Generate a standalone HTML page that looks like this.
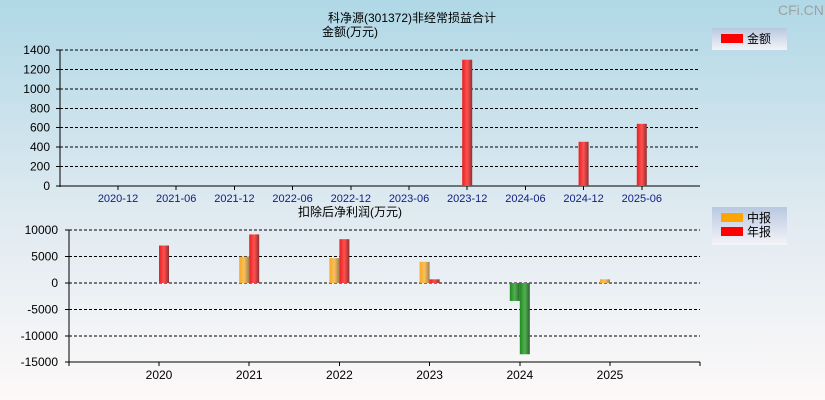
<!DOCTYPE html>
<html><head><meta charset="utf-8"><style>
body{margin:0;width:825px;height:400px;overflow:hidden;font-family:"Liberation Sans","Noto Sans CJK SC",sans-serif}
svg{display:block}
line{shape-rendering:crispEdges}
</style></head><body>
<svg id="c" width="825" height="400" xmlns="http://www.w3.org/2000/svg">
<defs>
<linearGradient id="bg" x1="0" y1="0" x2="0" y2="1"><stop offset="0" stop-color="#b0d8e6"/><stop offset="0.5" stop-color="#dde9f0"/><stop offset="1" stop-color="#fdf9f9"/></linearGradient>
<linearGradient id="gr" x1="0" x2="1"><stop offset="0" stop-color="#e82020"/><stop offset="0.5" stop-color="#ff5050"/><stop offset="1" stop-color="#903030"/></linearGradient>
<linearGradient id="go" x1="0" x2="1"><stop offset="0" stop-color="#f8a820"/><stop offset="0.5" stop-color="#f8c060"/><stop offset="1" stop-color="#a08050"/></linearGradient>
<linearGradient id="gg" x1="0" x2="1"><stop offset="0" stop-color="#208820"/><stop offset="0.5" stop-color="#50b050"/><stop offset="1" stop-color="#306030"/></linearGradient>
<linearGradient id="lg" x1="0" y1="0" x2="0" y2="1"><stop offset="0" stop-color="#b8c8e0"/><stop offset="1" stop-color="#f4f4f8"/></linearGradient>
</defs>
<rect width="825" height="400" fill="url(#bg)"/>
<text x="778" y="15" font-size="14" fill="#a0a0a0">CFi.CN</text>
<text x="412" y="22" font-size="12" text-anchor="middle">科净源(301372)非经常损益合计</text>
<text x="350" y="36" font-size="12" text-anchor="middle">金额(万元)</text>
<text x="350" y="216" font-size="12" text-anchor="middle">扣除后净利润(万元)</text>
<g><rect x="712" y="28" width="75" height="22" fill="url(#lg)"/><rect x="721" y="34" width="22" height="9" fill="#f00"/><text x="747" y="43" font-size="12">金额</text></g>
<g><rect x="712" y="207" width="75" height="38" fill="url(#lg)"/><rect x="721" y="213" width="22" height="9" fill="#ffa500"/><text x="747" y="222" font-size="12">中报</text><rect x="721" y="227" width="22" height="9" fill="#f00"/><text x="747" y="236" font-size="12">年报</text></g>
<g id="top"></g><g id="bot"></g>
</svg>
<script>
const topCats=["2020-12","2021-06","2021-12","2022-06","2022-12","2023-06","2023-12","2024-06","2024-12","2025-06"];
const topVals=[0,0,0,0,0,0,1300,0,455,640];
const topTicks=[0,200,400,600,800,1000,1200,1400];
const botCats=["2020","2021","2022","2023","2024","2025"];
const midVals=[null,5000,4700,4000,-3400,700];
const annVals=[7100,9200,8300,700,-13500,null];
const botTicks=[10000,5000,0,-5000,-10000,-15000];
const NS="http://www.w3.org/2000/svg";
function mk(p,t,a,txt){const e=document.createElementNS(NS,t);for(const k in a)e.setAttribute(k,a[k]);if(txt!==undefined)e.textContent=txt;p.appendChild(e);return e;}
const T=document.getElementById('top');
const tyS=v=>186-v*(136/1400), txS=i=>118+i*58.2;
topTicks.forEach(v=>{const y=tyS(v);
const g=mk(T,'line',{x1:60,x2:700,y1:y,y2:y,stroke:'#000','stroke-dasharray':v?'3,2':''});

mk(T,'line',{x1:56,x2:60,y1:y,y2:y,stroke:'#000'});
const t=mk(T,'text',{x:50,y:y+4,'font-size':12,'text-anchor':'end'},v);
});
mk(T,'line',{x1:60,x2:60,y1:50,y2:187,stroke:'#000'});
topCats.forEach((c,i)=>{const x=txS(i);
mk(T,'line',{x1:x,x2:x,y1:186,y2:190,stroke:'#000'});
const t=mk(T,'text',{x:x,y:202,'font-size':11,'text-anchor':'middle',fill:'#102080'},c);

const v=topVals[i];if(v){const r=mk(T,'rect',{x:x-5,y:tyS(v),width:10,height:tyS(0)-tyS(v),fill:'url(#gr)'});
}});
const B=document.getElementById('bot');
const byS=v=>283-v*(132/25000), bxS=i=>159+i*90.2;
botTicks.forEach(v=>{const y=byS(v);
if(v!==-15000){const g=mk(B,'line',{x1:69,x2:700,y1:y,y2:y,stroke:'#000','stroke-dasharray':'3,2'});
}
mk(B,'line',{x1:65,x2:69,y1:y,y2:y,stroke:'#000'});
const t=mk(B,'text',{x:58,y:y+4,'font-size':12,'text-anchor':'end'},v);
});
mk(B,'line',{x1:69,x2:69,y1:230,y2:363,stroke:'#000'});
mk(B,'line',{x1:69,x2:700,y1:362,y2:362,stroke:'#000'});
mk(B,'line',{x1:700,x2:700,y1:362,y2:366,stroke:'#000'});
mk(B,'line',{x1:69,x2:69,y1:362,y2:366,stroke:'#000'});
function bar(x,v,fill,name){if(v===null)return;const y0=byS(0),y1=byS(v);
const r=mk(B,'rect',{x:x,y:Math.min(y0,y1),width:10,height:Math.abs(y1-y0),fill:v<0?'url(#gg)':fill});
}
botCats.forEach((c,i)=>{const x=bxS(i);
mk(B,'line',{x1:x,x2:x,y1:362,y2:366,stroke:'#000'});
const t=mk(B,'text',{x:x,y:379,'font-size':12,'text-anchor':'middle'},c);

bar(x-10,midVals[i],'url(#go)','mid-bar-'+c);
bar(x,annVals[i],'url(#gr)','annual-bar-'+c);});
</script>
</body></html>
